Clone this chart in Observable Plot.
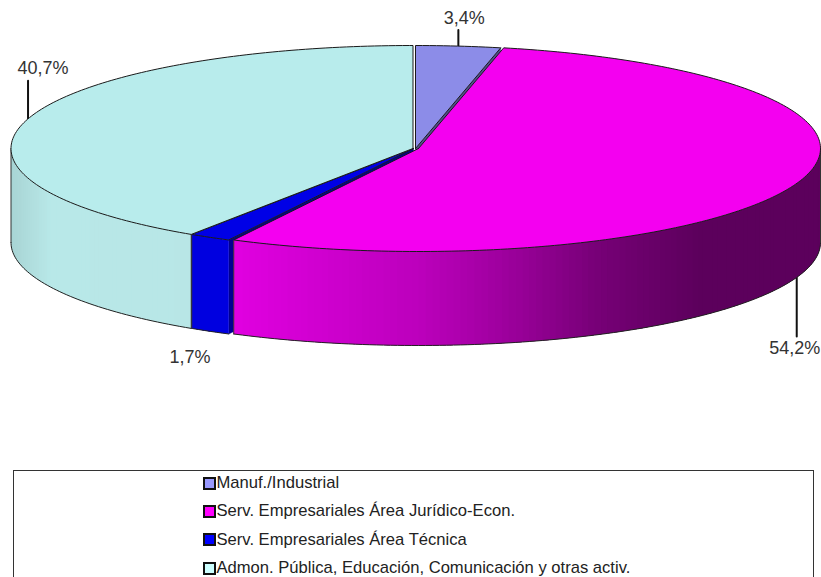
<!DOCTYPE html>
<html><head><meta charset="utf-8">
<script src="https://cdn.jsdelivr.net/npm/d3@7"></script>
<script src="https://cdn.jsdelivr.net/npm/@observablehq/plot@0.6"></script>
<style>
html,body{margin:0;padding:0;background:#fff;width:821px;height:577px;overflow:hidden;font-family:"Liberation Sans",Arial,sans-serif}
#chart svg{display:block}
#legend{position:absolute;left:13px;top:470px;width:801px;height:130px;border:1px solid #333;box-sizing:border-box}
#legend .row{position:absolute;left:189px;display:flex;align-items:center;height:20px;font-size:16.6px;color:#222;white-space:nowrap}
#legend .sw{width:9px;height:9px;border:2px solid #111;margin-right:0.5px;flex:none}
</style></head><body>
<div id="chart"></div><div id="legend"></div>
<script>
const categories = ["Manuf./Industrial","Serv. Empresariales Área Jurídico-Econ.","Serv. Empresariales Área Técnica","Admon. Pública, Educación, Comunicación y otras activ."];
const shares = [3.4, 54.2, 1.7, 40.7];
const shareLabels = ["3,4%","54,2%","1,7%","40,7%"];
const topColors = ["#8c8ce8","#f400f0","#0000e6","#b8ecec"];
const faceColors = ["#50508c","#700070","#000090","#90c0c0"];
const swatchColors = ["#9999ff","#ff00ff","#0000ff","#ccffff"];

const W = 821, H = 470, cx = 413, cy = 148, rx = 402, ry = 103, depth = 94;
// small explosion of each slice, in px
const shift = [[2,0],[5,0],[0,0],[-0.5,0]];
const rad = Math.PI/180;
const total = d3.sum(shares);
let acc = 0;
const slices = shares.map((v,i)=>{const a=acc/total*360; acc+=v; return {i,a0:a,a1:acc/total*360,mid:(a+acc/total*360)/2};});

const rim = (s,t,d=0)=>({x:Math.sin(t*rad)+shift[s.i][0]/rx, y:-Math.cos(t*rad)+(shift[s.i][1]+d)/ry});
const centre = (s,d=0)=>({x:shift[s.i][0]/rx, y:(shift[s.i][1]+d)/ry});
const range = (a,b,st=1)=>{const o=[];for(let t=a;t<b;t+=st)o.push(t);o.push(b);return o;};

const polys=[], strips=[], tops=[], sideEdges=[];
let id=0;
const add=(arr,pts,fill)=>{const k=id++;[...pts,pts[0]].forEach(p=>arr.push({...p,k,fill}));};

// radial cut faces
const face=(s,t)=>add(polys,[rim(s,t),rim(s,t,depth),centre(s,depth),centre(s)],faceColors[s.i]);
face(slices[0],slices[0].a1);
face(slices[2],slices[2].a0);

// outer walls, coloured along the horizontal position; each strip overlaps the next to avoid seams
const shadeMag = d3.scaleLinear().domain([-0.45,0,0.2,0.45,0.7,1]).range(["#e000e0","#bc00bc","#a000a0","#760076","#5c005c","#5c005c"]);
const shadePale = d3.scaleLinear().domain([-1,-0.9,-0.5]).range(["#a8d4d4","#b8e8e8","#b8e6e6"]);
const wall=(s,a,b,col)=>{
  const ts=range(a,b,1);
  for(let j=0;j<ts.length-1;j++){
    const t=ts[j],t2=ts[j+1],t3=Math.min(b,t2+1.5);
    const c=col((Math.sin(t*rad)+Math.sin(t2*rad))/2);
    add(strips,[...range(t,t3,0.5).map(u=>rim(s,u)),...range(t,t3,0.5).reverse().map(u=>rim(s,u,depth))],c);
  }
  range(a,b,1).forEach(t=>sideEdges.push({...rim(s,t,depth),k:s.i}));
};
wall(slices[3],slices[3].a0,270,shadePale);
wall(slices[2],slices[2].a0,slices[2].a1,()=>"#0000e0");
wall(slices[1],90,slices[1].a1,shadeMag);

// top faces
slices.forEach(s=>add(tops,[centre(s),...range(s.a0,s.a1,1).map(t=>rim(s,t))],topColors[s.i]));

// side vertical edges
const verticals=[];
[[3,slices[3].a0],[3,270],[2,slices[2].a1],[1,slices[1].a1],[1,90]].forEach(([i,t],n)=>{
  const s=slices[i];verticals.push({...rim(s,t),k:n},{...rim(s,t,depth),k:n});
});

// leaders and labels
const leaders=[], labels=[];
const leaderPx=[16,null,null,38];
slices.forEach(s=>{
  const top = s.i===0||s.i===3;
  const base = rim(s,s.mid, top?0:depth);
  if(s.i===0||s.i===3){
    const end={x:base.x,y:base.y-leaderPx[s.i]/ry};
    leaders.push({...base,k:s.i},{...end,k:s.i});
    labels.push({x:end.x+(s.i===0?6:15)/rx,y:end.y-(s.i===0?12:13)/ry,t:shareLabels[s.i]});
  } else if(s.i===1){
    const end={x:base.x,y:base.y+59/ry};
    leaders.push({...base,k:s.i},{...end,k:s.i});
    labels.push({x:end.x-2/rx,y:end.y+12/ry,t:shareLabels[s.i]});
  } else {
    labels.push({x:base.x-20/rx,y:base.y+(357-(base.y*ry+cy))/ry,t:shareLabels[s.i]});
  }
});

const plot = Plot.plot({
  width:W,height:H,margin:0,
  style:{background:"transparent"},
  x:{domain:[-cx/rx,(W-cx)/rx],range:[0,W],axis:null},
  y:{domain:[-cy/ry,(H-cy)/ry],range:[0,H],axis:null},
  color:{type:"identity"},
  marks:[
    Plot.line(leaders,{x:"x",y:"y",z:"k",stroke:"#111",strokeWidth:2}),
    Plot.line(polys,{x:"x",y:"y",z:"k",fill:d=>d.fill,stroke:d=>d.fill,strokeWidth:0.5}),
    Plot.line(strips,{x:"x",y:"y",z:"k",fill:d=>d.fill,stroke:"none"}),
    Plot.line(sideEdges,{x:"x",y:"y",z:"k",stroke:"#222",strokeWidth:1}),
    Plot.line(verticals,{x:"x",y:"y",z:"k",stroke:"#333",strokeWidth:1}),
    Plot.line(tops,{x:"x",y:"y",z:"k",fill:d=>d.fill,stroke:"#1a1a1a",strokeWidth:1}),
    Plot.text(labels,{x:"x",y:"y",text:"t",fontSize:18,fontFamily:"Liberation Sans",fill:"#333"})
  ]
});
document.getElementById("chart").append(plot);

const legend=document.getElementById("legend");
categories.forEach((c,i)=>{
  const r=document.createElement("div");r.className="row";r.style.top=(2+i*28.4)+"px";
  const s=document.createElement("span");s.className="sw";s.style.background=swatchColors[i];
  const t=document.createElement("span");t.textContent=c;
  r.append(s,t);legend.append(r);
});
</script></body></html>
